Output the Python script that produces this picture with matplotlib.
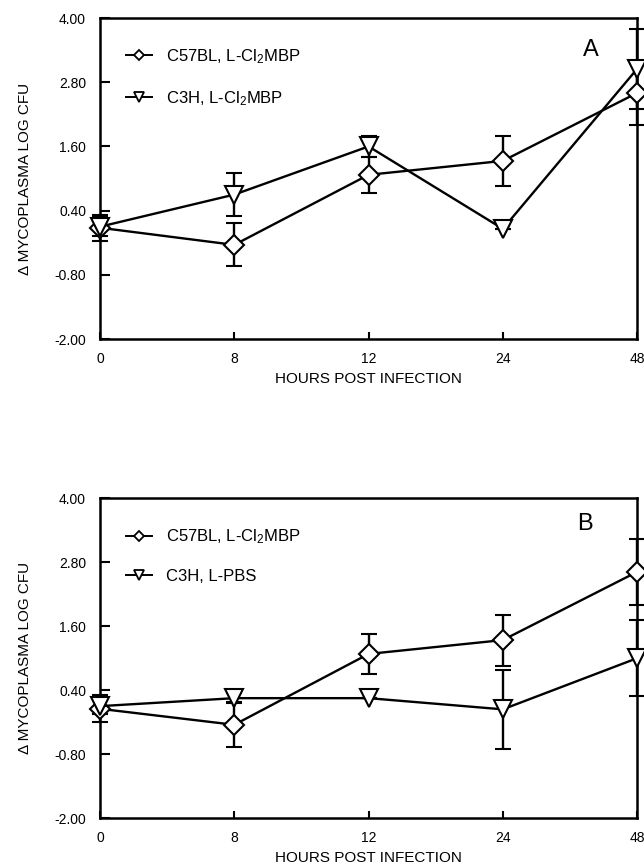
import matplotlib
matplotlib.use('Agg')
import matplotlib.pyplot as plt
from matplotlib.lines import Line2D
import numpy as np

plt.rcParams['font.family'] = ['Liberation Sans', 'DejaVu Sans']
plt.rcParams['mathtext.fontset'] = 'custom'
plt.rcParams['mathtext.rm'] = 'Liberation Sans'
plt.rcParams['mathtext.it'] = 'Liberation Sans'

HOURS = ['0', '8', '12', '24', '48']
YTICKS = [-2.00, -0.80, 0.40, 1.60, 2.80, 4.00]

# panel A
A_C57_MEAN = [0.08, -0.24, 1.07, 1.33, 2.60]
A_C57_ERR = [0.24, 0.40, 0.34, 0.47, 0.60]
A_C3H_MEAN = [0.10, 0.70, 1.60, 0.06, 3.05]
A_C3H_ERR = [0.18, 0.40, 0.20, 0.00, 0.75]
A_LABELS = ['C57BL, L-Cl$_2$MBP', 'C3H, L-Cl$_2$MBP']

# panel B
B_C57_MEAN = [0.05, -0.25, 1.08, 1.34, 2.62]
B_C57_ERR = [0.25, 0.42, 0.37, 0.48, 0.62]
B_C3H_MEAN = [0.10, 0.25, 0.25, 0.04, 1.00]
B_C3H_ERR = [0.15, 0.10, 0.00, 0.74, 0.71]
B_LABELS = ['C57BL, L-Cl$_2$MBP', 'C3H, L-PBS']


def panel(ax, c57, c57e, c3h, c3he, labels, letter, letter_xy):
    x = np.arange(len(HOURS))
    for mean, err, mk, ms in [(c57, c57e, 'D', 10), (c3h, c3he, 'v', 13)]:
        ax.errorbar(x, mean, yerr=err, color='black', lw=1.7, elinewidth=1.7,
                    capsize=6, capthick=1.7, marker=mk, ms=ms, mfc='white',
                    mec='black', mew=1.5, clip_on=False, zorder=3)
    ax.set_xlim(0, 4)
    ax.set_ylim(-2, 4)
    ax.set_xticks(x)
    ax.set_xticklabels(HOURS)
    ax.set_yticks(YTICKS)
    ax.set_yticklabels(['%.2f' % v for v in YTICKS])
    ax.tick_params(direction='in', width=1.5, labelsize=10)
    ax.tick_params(axis='y', length=7, pad=10)
    ax.tick_params(axis='x', length=5, pad=9)
    for s in ax.spines.values():
        s.set_linewidth(1.8)
    ax.set_xlabel('HOURS POST INFECTION', fontsize=11, labelpad=5)
    ax.set_ylabel('\u0394 MYCOPLASMA LOG CFU', fontsize=11, labelpad=16)
    handles = [Line2D([], [], color='black', lw=1.4, marker='D', ms=5.5, mfc='white', mew=1.3),
               Line2D([], [], color='black', lw=1.4, marker='v', ms=7.5, mfc='white', mew=1.3)]
    ax.legend(handles, labels, loc='upper left', frameon=False, fontsize=12,
              handlelength=1.6, handletextpad=0.8, labelspacing=1.38,
              borderpad=0, borderaxespad=0, bbox_to_anchor=(0.048, 0.909))
    ax.text(letter_xy[0], letter_xy[1], letter, transform=ax.transAxes,
            fontsize=17, ha='center', va='center')


fig = plt.figure(figsize=(6.44, 8.64), dpi=100)
ax1 = fig.add_axes([0.1553, 0.6076, 0.834, 0.3715])
ax2 = fig.add_axes([0.1553, 0.0532, 0.834, 0.370])
panel(ax1, A_C57_MEAN, A_C57_ERR, A_C3H_MEAN, A_C3H_ERR, A_LABELS, 'A', (0.913, 0.90))
panel(ax2, B_C57_MEAN, B_C57_ERR, B_C3H_MEAN, B_C3H_ERR, B_LABELS, 'B', (0.903, 0.92))
fig.savefig('out.png', dpi=100)
